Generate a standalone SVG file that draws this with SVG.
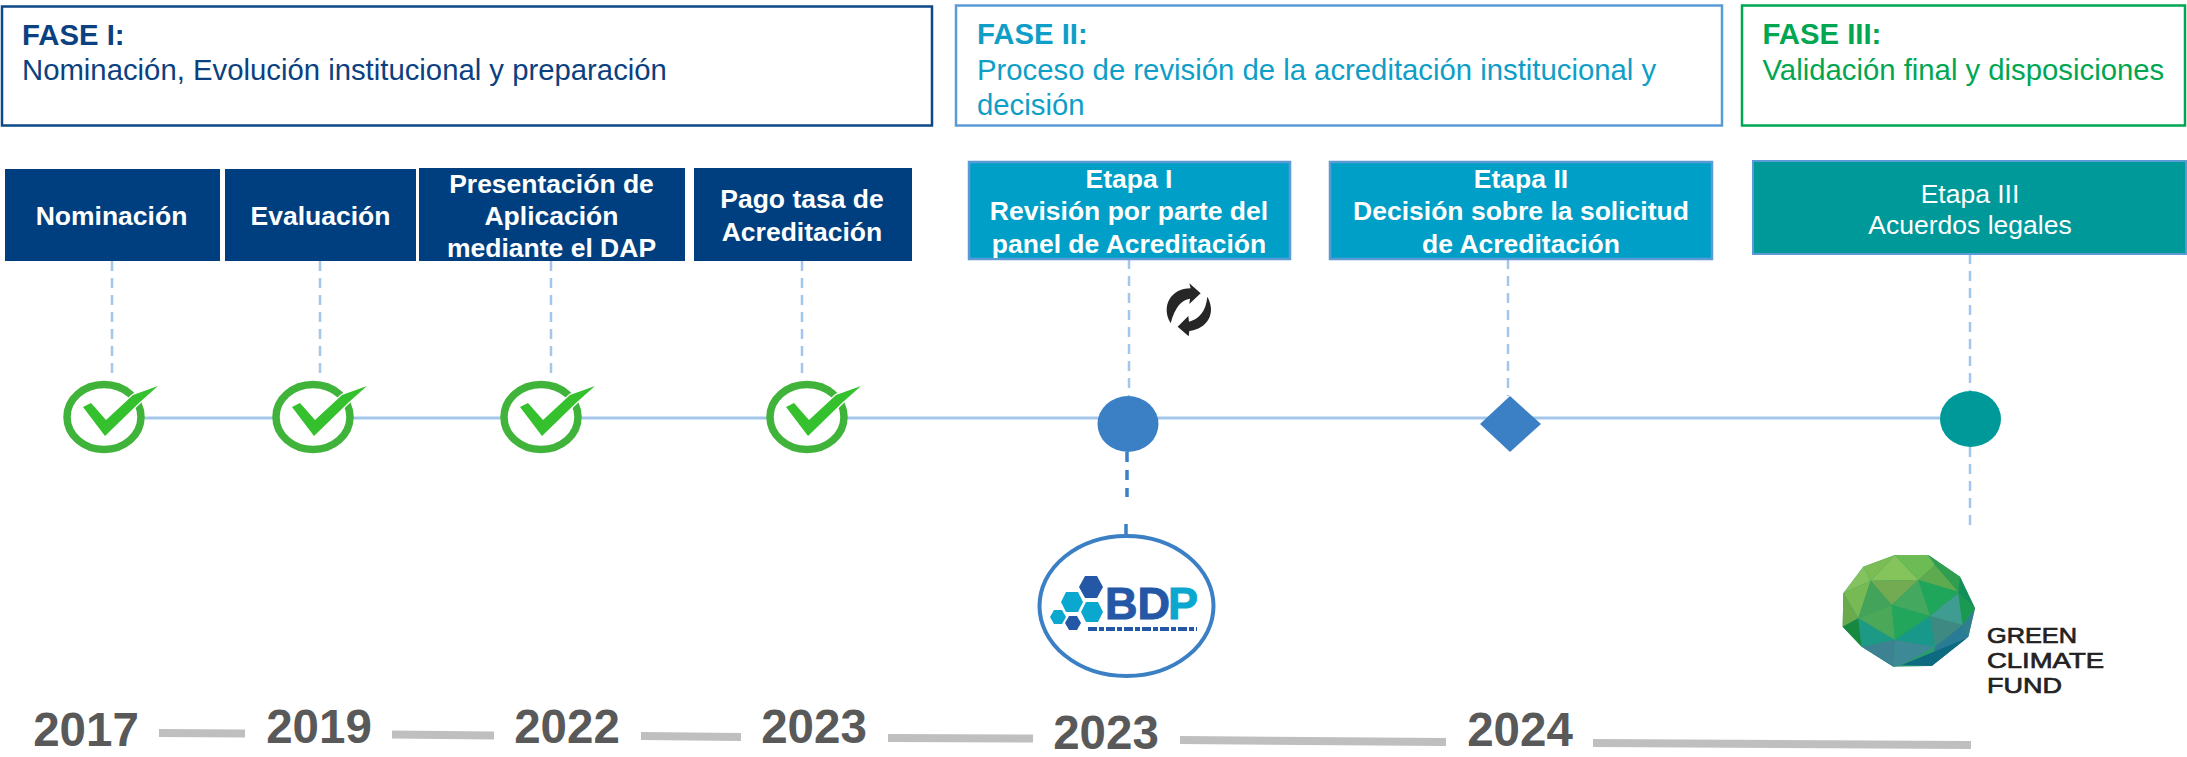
<svg xmlns="http://www.w3.org/2000/svg" width="2187" height="757" viewBox="0 0 2187 757">
<defs>
<style>
text{font-family:"Liberation Sans",Arial,sans-serif}
.fase{fill:#fff;stroke-width:2.5}
.ft{font-size:29.3px}
.b{font-weight:700}
.nt{font-size:26.500px;font-weight:700;fill:#fff;text-anchor:middle}
.nr{font-size:26.500px;fill:#fff;text-anchor:middle}
.yr{font-size:47.500px;font-weight:700;fill:#595959;text-anchor:middle}
.tl{stroke:#a3c7ea;stroke-width:3;fill:none}
.dash{stroke:#a3c7ea;stroke-width:2.500;stroke-dasharray:10 7;fill:none}
.yl{stroke:#bfbfbf;stroke-width:8;fill:none}
.dk{fill:#003f7f}
.et{fill:#009fc7;stroke:#5b9bd5;stroke-width:2.500}
</style>
<g id="chk">
<ellipse cx="0" cy="0" rx="37" ry="32.500" fill="#fff" stroke="#3fb33a" stroke-width="7.500"/>
<path d="M-21,-10 L-13,-14 L2,3 L29,-22 L54,-31 L36,-15 L1,19 Z" fill="#35c02e" stroke="#fff" stroke-width="2.500" stroke-linejoin="round" paint-order="stroke"/>
</g>
</defs>
<g id="connectors">
<path class="tl" d="M105,418 H1940"/>
<path class="dash" d="M112,261V380M320,261V380M551,261V380M802,261V380M1129,259V396M1508,259V396M1970,254V391M1970,447V530"/>
<path d="M1127,452V462M1127,470V480M1127,488V497M1126,524V534" stroke="#3b7fc4" stroke-width="3.500" fill="none"/>
<path class="yl" d="M159,733L245,733.500M392,734.500L494,735.500M641,736L741,737M888,738L1033,738.500M1180,740L1446,742M1593,743L1971,745"/>
</g>
<g id="fase1"><rect class="fase" x="2" y="6.500" width="930" height="119" stroke="#0b4a86"/><text class="ft b" x="22" y="45" fill="#0b4180">FASE I:</text><text class="ft" x="22" y="80" fill="#0b4180">Nominación, Evolución institucional y preparación</text></g>
<g id="fase2"><rect class="fase" x="956" y="5.500" width="766" height="120" stroke="#5b9bd5"/><text class="ft b" x="977" y="44" fill="#0e9ec7">FASE II:</text><text class="ft" x="977" y="80" fill="#0e9ec7">Proceso de revisión de la acreditación institucional y</text><text class="ft" x="977" y="115" fill="#0e9ec7">decisión</text></g>
<g id="fase3"><rect class="fase" x="1742" y="5.500" width="443" height="120" stroke="#00a651"/><text class="ft b" x="1762.500" y="44" fill="#00a651">FASE III:</text><text class="ft" x="1762.500" y="80" fill="#00a651">Validación final y disposiciones</text></g>
<g id="n-nominacion"><rect class="dk" x="5" y="169" width="215" height="92"/><text class="nt" x="111.500" y="225">Nominación</text></g>
<g id="n-evaluacion"><rect class="dk" x="225" y="169" width="191" height="92"/><text class="nt" x="320.500" y="225">Evaluación</text></g>
<g id="n-presentacion"><rect class="dk" x="419" y="168" width="266" height="93"/><text class="nt" x="551.500" y="193">Presentación de</text><text class="nt" x="551.500" y="225">Aplicación</text><text class="nt" x="551.500" y="257">mediante el DAP</text></g>
<g id="n-pago"><rect class="dk" x="694" y="168" width="218" height="93"/><text class="nt" x="802" y="208">Pago tasa de</text><text class="nt" x="802" y="241">Acreditación</text></g>
<g id="n-etapa1"><rect class="et" x="969" y="162" width="321" height="97"/><text class="nt" x="1129" y="188">Etapa I</text><text class="nt" x="1129" y="220">Revisión por parte del</text><text class="nt" x="1129" y="253">panel de Acreditación</text></g>
<g id="n-etapa2"><rect class="et" x="1330" y="162" width="382" height="97"/><text class="nt" x="1521" y="188">Etapa II</text><text class="nt" x="1521" y="220">Decisión sobre la solicitud</text><text class="nt" x="1521" y="253">de Acreditación</text></g>
<g id="n-etapa3"><rect x="1753" y="161" width="433" height="93" fill="#009999" stroke="#5b9bd5" stroke-width="2"/><text class="nr" x="1970" y="203">Etapa III</text><text class="nr" x="1970" y="234">Acuerdos legales</text></g>
<g id="refresh" transform="translate(1130,270) scale(.3333)" fill="#262626"><path d="M122,160 C92,110 122,55 182,55 L178,40 L212,70 L178,102 L180,86 C155,90 135,110 122,160 Z"/><path d="M232,80 C260,130 232,176 178,183 L176,199 L143,170 L175,138 L177,155 C205,148 228,125 232,80 Z"/></g>
<use id="c1" href="#chk" x="104" y="417"/>
<use id="c2" href="#chk" x="313" y="417"/>
<use id="c3" href="#chk" x="541" y="417"/>
<use id="c4" href="#chk" x="807" y="417"/>
<g id="m1"><ellipse cx="1128" cy="424" rx="30.500" ry="28" fill="#3b7fc4"/></g>
<g id="m2"><path d="M1510,396L1541,424L1510,452L1480,424Z" fill="#3b7fc4"/></g>
<g id="m3"><ellipse cx="1970.500" cy="419" rx="30.500" ry="28" fill="#009999"/></g>
<g id="logo-bdp"><ellipse cx="1126.500" cy="606" rx="87" ry="70" fill="#fff" stroke="#3b7fc4" stroke-width="4"/>
<g fill="#2458a6"><path d="M1085,576H1097L1103,587L1097,598H1085L1079,587Z"/><path d="M1069,616H1077L1081,623L1077,630H1069L1065,623Z"/></g>
<g fill="#0aa8cf"><path d="M1066,592H1078L1083,602L1078,612H1066L1061,602Z"/><path d="M1086,602H1098L1103,612L1098,622H1086L1081,612Z"/><path d="M1054,610H1062L1066,617L1062,624H1054L1050,617Z"/></g>
<text x="1105" y="619" font-size="45" font-weight="700" fill="#2458a6" stroke="#2458a6">BD</text><text x="1168" y="619" font-size="45" font-weight="700" fill="#0aa8cf" stroke="#0aa8cf">P</text>
<path d="M1088,629H1197" stroke="#2458a6" stroke-width="4" stroke-dasharray="9 2 5 2" fill="none"/></g>
<g id="logo-gcf"><g transform="translate(1820,530) scale(.3333)">
<path d="M70,190L130,110L225,75L325,75L420,140L465,235L445,320L335,408L220,410L125,350L68,290Z" fill="#2a9d6a"/>
<path d="M152,152L225,75L295,150Z" fill="#85c45a"/><path d="M130,110L225,75L152,152Z" fill="#7cbc55"/><path d="M225,75L325,75L345,105L295,150Z" fill="#6dbb55"/>
<path d="M130,110L70,190L152,152Z" fill="#84c25f"/><path d="M70,190L152,152L115,265Z" fill="#76b955"/><path d="M70,190L115,265L68,290Z" fill="#6aa94c"/>
<path d="M152,152L295,150L215,225Z" fill="#73ab52"/><path d="M152,152L215,225L115,265Z" fill="#44a35a"/><path d="M295,150L345,105L415,185Z" fill="#5dab4e"/>
<path d="M325,75L420,140L415,185L345,105Z" fill="#2f9e4f"/><path d="M295,150L415,185L330,258Z" fill="#20a65a"/><path d="M295,150L330,258L215,225Z" fill="#45a85f"/>
<path d="M115,265L215,225L225,330Z" fill="#4ba859"/><path d="M215,225L330,258L225,330Z" fill="#22a65c"/><path d="M330,258L415,190L428,285Z" fill="#3f9c90"/>
<path d="M420,140L465,235L415,190Z" fill="#128f5a"/><path d="M415,190L465,235L428,285Z" fill="#1a9a50"/><path d="M68,290L115,265L125,350Z" fill="#17883f"/>
<path d="M115,265L225,330L125,350Z" fill="#1d9a85"/><path d="M225,330L330,258L345,350Z" fill="#17988a"/><path d="M330,258L428,285L345,350Z" fill="#3e8a82"/>
<path d="M428,285L465,235L445,320Z" fill="#2f7f8e"/><path d="M125,350L225,330L220,410Z" fill="#3d8293"/><path d="M225,330L345,350L245,405L220,410Z" fill="#3d8a96"/>
<path d="M345,350L428,285L445,320L335,408Z" fill="#2a7b96"/><path d="M245,405L440,325L335,408Z" fill="#0d6a80"/></g>
<g font-size="22.500" fill="#222" stroke="#222" stroke-width=".7"><text x="1987" y="643" textLength="90" lengthAdjust="spacingAndGlyphs">GREEN</text><text x="1987" y="668" textLength="117" lengthAdjust="spacingAndGlyphs">CLIMATE</text><text x="1987" y="693" textLength="75" lengthAdjust="spacingAndGlyphs">FUND</text></g></g>
<g id="years"><text class="yr" x="86" y="746">2017</text><text class="yr" x="319" y="743">2019</text><text class="yr" x="567" y="743">2022</text><text class="yr" x="814" y="743">2023</text><text class="yr" x="1106" y="749">2023</text><text class="yr" x="1520" y="746">2024</text></g>
</svg>
